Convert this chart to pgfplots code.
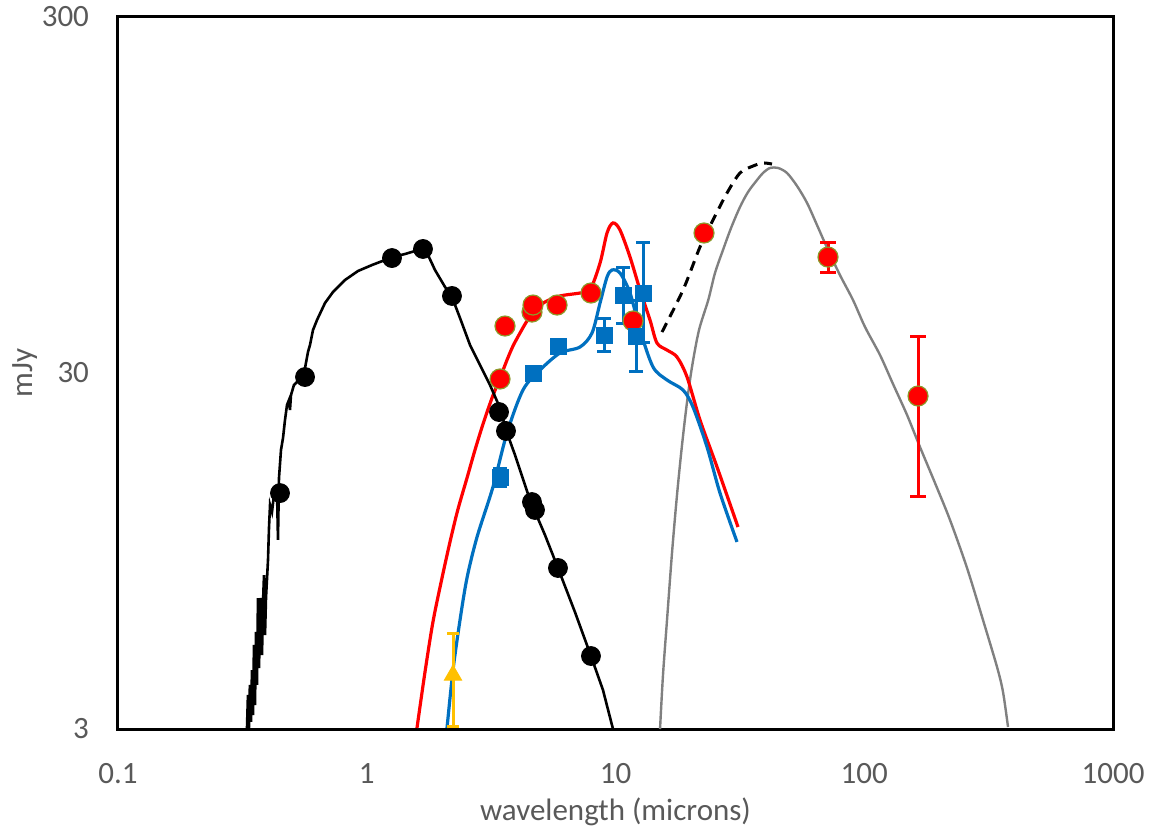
\documentclass[border=0pt]{standalone}
\usepackage{pgfplots}
\pgfplotsset{compat=1.18}
\usepackage{fontspec}
\setmainfont{Carlito}
\definecolor{xlred}{HTML}{FF0000}
\definecolor{xlblue}{HTML}{0070C0}
\definecolor{xlgray}{HTML}{808080}
\definecolor{xlgold}{HTML}{FFC000}
\definecolor{ticktext}{HTML}{595959}
\definecolor{olivebd}{HTML}{8C9A2A}
\begin{document}
\begin{tikzpicture}
\useasboundingbox (-59pt,-51pt) rectangle (520.5pt,364.5pt);
\begin{axis}[
  at={(0,0)}, anchor=south west,
  scale only axis, width=497.5pt, height=356pt,
  xmode=log, ymode=log,
  xmin=0.1, xmax=1000, ymin=3, ymax=300,
  xtick={0.1,1,10,100,1000}, xticklabels={0.1,1,10,100,1000},
  ytick={3,30,300}, yticklabels={3,30,300},
  xminorticks=false, yminorticks=false,
  major tick length=0pt,
  axis line style={black, line width=1.5pt},
  tick label style={font=\fontsize{15.5}{18}\selectfont, text=ticktext},
  xticklabel style={anchor=base, yshift=-27pt},
  yticklabel style={anchor=east, xshift=-11pt},
  xlabel={wavelength (microns)}, ylabel={mJy},
  label style={font=\fontsize{15.5}{18}\selectfont, text=ticktext},
  xlabel style={at={(axis description cs:0.5,-0.1166)}, anchor=center},
  ylabel style={at={(axis description cs:-0.0935,0.5)}, anchor=center},
  clip=true,
]
% gray modified blackbody
\addplot[xlgray, line width=1.2pt, smooth, tension=0.5] coordinates {
(15.10,3.0) (15.52,4.25) (16.11,6.07) (16.87,9.36) (17.67,13.63) (18.51,18.83)
(19.39,24.87) (20.30,31.2) (21.66,39.6) (23.60,48.1) (25.12,57.3) (27.05,66.5)
(29.13,76.6) (31.66,87.8) (34.10,96.7) (37.06,104.5) (39.17,109.4) (41.8,113.0)
(45.01,113.0) (48.9,109.4) (53.65,100.6) (58.9,90.1) (64.58,78.1) (71.5,66.5)
(79.9,56.5) (90.1,48.1) (100.7,40.4) (115.7,33.7) (130.5,27.94) (148.6,22.87)
(167.5,18.59) (192.5,14.73) (221.2,11.59) (258.9,8.50) (300.2,6.07) (341.8,4.48)
(361.3,3.81) (378.4,3.04)};
% black dashed
\addplot[black, line width=1.5pt, dash pattern=on 5pt off 3.5pt, smooth] coordinates {
(15.38,39.1) (18.68,51.3) (21.86,67.8) (24.66,80.7) (28.07,96.1) (31.66,109.4)
(35.71,114.4) (39.17,116.7) (42.57,115.9)};
% red model
\addplot[xlred, line width=1.6pt, smooth, tension=0.5] coordinates {
(1.592,3.02) (1.715,4.34) (1.846,6.00) (2.007,7.97) (2.161,10.06) (2.322,12.37)
(2.529,15.21) (2.724,18.24) (2.934,21.57) (3.188,25.52) (3.434,29.04) (3.663,32.63)
(3.872,35.72) (4.131,38.86) (4.408,42.0) (4.747,45.1) (5.206,47.49) (5.982,49.37)
(7.198,50.33) (7.896,51.3) (8.666,61.1) (9.245,74.2) (9.77,79.2) (10.42,75.7)
(11.44,63.5) (12.55,51.3) (13.76,42.27) (14.68,36.42) (16.11,34.8) (17.67,33.27)
(19.39,29.23) (21.86,22.14) (25.59,16.34) (31.08,11.08)};
% blue model
\addplot[xlblue, line width=1.6pt, smooth, tension=0.5] coordinates {
(2.102,3.02) (2.222,4.39) (2.371,6.07) (2.529,7.97) (2.775,10.38) (3.217,14.36)
(3.663,20.35) (4.247,26.88) (4.973,30.59) (5.982,34.14) (7.198,35.49) (8.045,38.86)
(8.666,47.18) (9.245,55.8) (9.68,58.41) (10.42,57.3) (11.44,50.33) (12.55,39.6)
(14.15,31.2) (16.11,28.67) (18.68,26.88) (20.49,24.07) (23.33,18.59) (26.31,13.8)
(30.79,10.06)};
% black stellar spectrum
\addplot[black, line width=1.3pt] coordinates {
(0.330,3.0) (0.333,3.74) (0.336,3.0) (0.339,3.99) (0.3424,3.14) (0.3457,4.39)
(0.3489,3.28) (0.3521,5.17) (0.3554,3.50) (0.3587,5.62) (0.3620,3.99) (0.3654,7.00)
(0.3688,4.45) (0.3724,5.99) (0.3758,7.00) (0.3793,4.84) (0.3828,6.78) (0.3864,8.12)
(0.3900,5.51) (0.3936,7.00) (0.4009,8.95) (0.4046,11.01) (0.4085,12.78) (0.4160,12.21)
(0.4238,13.63) (0.4357,14.07) (0.4397,10.19) (0.4438,15.21) (0.4521,18.24) (0.4606,19.70)
(0.4692,22.14) (0.4780,24.39) (0.4869,25.20) (0.4913,23.61) (0.4960,26.02) (0.5097,27.76)
(0.5243,28.30) (0.5392,28.67) (0.5543,30.20) (0.5648,30.99) (0.5805,34.37) (0.5913,35.96)
(0.6080,39.6) (0.6310,42.27) (0.6796,47.18) (0.7317,50.66) (0.8178,54.75) (0.9222,58.03)
(1.050,60.32) (1.184,62.30) (1.275,63.52) (1.425,64.77) (1.563,66.04) (1.683,66.91)
(1.763,64.35) (1.881,58.41) (2.064,52.33) (2.201,49.04) (2.371,42.82) (2.601,35.96)
(2.853,31.60) (3.129,27.76) (3.434,23.92) (3.629,20.75) (3.945,17.65) (4.532,13.20)
(5.206,10.52) (5.871,8.50) (6.872,6.39) (7.970,4.81) (8.906,3.86) (9.77,3.0)};
% black photometry
\addplot[only marks, mark=*, mark size=4.75pt, mark options={fill=black, draw=black}] coordinates {
(0.448,13.8) (0.5648,29.23) (1.263,63.1) (1.683,66.91) (2.201,49.37) (3.402,23.31)
(3.629,20.62) (4.616,13.02) (4.746,12.37) (5.871,8.50) (7.970,4.81)};
% red points with error bars
\addplot[only marks, mark=*, mark size=5pt, mark options={fill=xlred, draw=olivebd, line width=0.6pt},
  error bars/.cd, y dir=both, y explicit,
  error bar style={line width=1.5pt, color=xlred},
  error mark options={rotate=90, mark size=4pt, line width=1.5pt, color=xlred}] coordinates {
(71.5,63.5) += (0,6.1) -= (0,6.2)
(164.5,25.85) += (0,12.05) -= (0,12.31)};
% red points
\addplot[only marks, mark=*, mark size=5pt, mark options={fill=xlred, draw=olivebd, line width=0.6pt}] coordinates {
(3.434,28.86) (3.596,40.65) (4.616,44.5) (4.660,46.56) (5.82,46.56) (7.97,50.33)
(11.76,42.0) (22.69,74.2)};
% blue squares with error bars
\addplot[only marks, mark=square*, mark size=4pt, mark options={fill=xlblue, draw=xlblue},
  error bars/.cd, y dir=both, y explicit,
  error bar style={line width=1.5pt, color=xlblue},
  error mark options={rotate=90, mark size=3.5pt, line width=1.5pt, color=xlblue}] coordinates {
(3.434,15.31) += (0,0.9) -= (0,0.9)
(4.660,30.0) += (0,0) -= (0,0)
(5.871,35.7) += (0,0) -= (0,0)
(8.99,38.35) += (0,4.2) -= (0,3.77)
(10.72,49.7) += (0,9.5) -= (0,8.25)
(12.9,50.33) += (0,19.3) -= (0,13.9)
(12.09,38.1) += (0,10.0) -= (0,7.9)};
% yellow triangle
\addplot[only marks, mark=triangle*, mark size=5pt, mark options={fill=xlgold, draw=xlgold},
  error bars/.cd, y dir=both, y explicit,
  error bar style={line width=1.5pt, color=xlgold},
  error mark options={rotate=90, mark size=3pt, line width=1.5pt, color=xlgold}] coordinates {
(2.222,4.25) += (0,1.3) -= (0,1.2)};
\end{axis}
\end{tikzpicture}
\end{document}
